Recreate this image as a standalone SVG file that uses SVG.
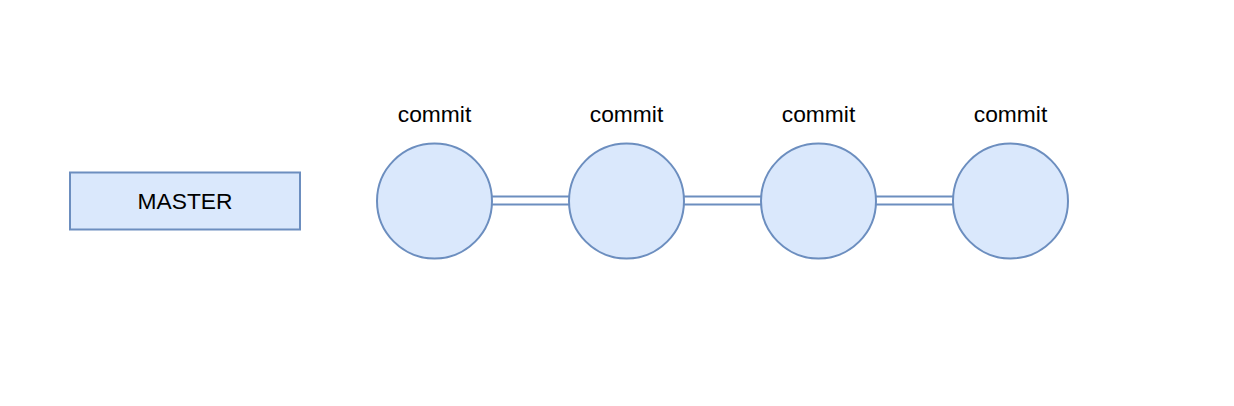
<svg xmlns="http://www.w3.org/2000/svg" width="1234" height="406" viewBox="0 0 1234 406">
<style>
.n{fill:#dae8fc;stroke:#6c8ebf;stroke-width:2}
.t{font-family:"Liberation Sans",Arial,sans-serif;font-size:22.8px;fill:#000;text-anchor:middle}
.c{stroke:#6c8ebf;stroke-width:2;fill:none}
</style>
<rect width="1234" height="406" fill="#fff"/>
<g id="connectors">
<line class="c" x1="492" y1="196.5" x2="569" y2="196.5"/>
<line class="c" x1="492" y1="204.5" x2="569" y2="204.5"/>
<line class="c" x1="684" y1="196.5" x2="761" y2="196.5"/>
<line class="c" x1="684" y1="204.5" x2="761" y2="204.5"/>
<line class="c" x1="876" y1="196.5" x2="953" y2="196.5"/>
<line class="c" x1="876" y1="204.5" x2="953" y2="204.5"/>
</g>
<g id="master">
<rect class="n" x="70" y="172.5" width="230" height="57"/>
<text class="t" x="185" y="208.5">MASTER</text>
</g>
<g id="commit1">
<circle class="n" cx="434.5" cy="201" r="57.5"/>
<text class="t" x="434.5" y="122">commit</text>
</g>
<g id="commit2">
<circle class="n" cx="626.5" cy="201" r="57.5"/>
<text class="t" x="626.5" y="122">commit</text>
</g>
<g id="commit3">
<circle class="n" cx="818.5" cy="201" r="57.5"/>
<text class="t" x="818.5" y="122">commit</text>
</g>
<g id="commit4">
<circle class="n" cx="1010.5" cy="201" r="57.5"/>
<text class="t" x="1010.5" y="122">commit</text>
</g>
</svg>
